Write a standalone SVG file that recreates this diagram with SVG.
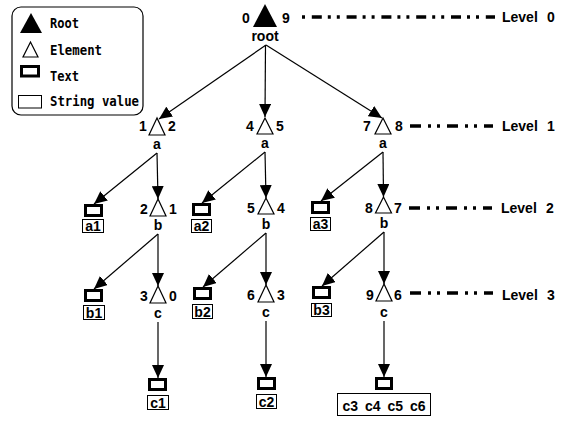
<svg xmlns="http://www.w3.org/2000/svg" width="564" height="421" viewBox="0 0 564 421">
<defs>
<marker id="arr" markerUnits="userSpaceOnUse" markerWidth="13" markerHeight="12" viewBox="0 0 13 12" refX="13" refY="6" orient="auto">
<path d="M0,0 L13,6 L0,12 z" fill="#000"/>
</marker>
</defs>
<style>
.lbl{font-family:"Liberation Sans",Arial,sans-serif;font-weight:bold;font-size:14px;fill:#000;text-anchor:middle}
.leg{font-family:"DejaVu Sans Mono","Liberation Mono",monospace;font-weight:bold;font-size:14px;fill:#000}
.lvl{font-family:"Liberation Sans",Arial,sans-serif;font-weight:bold;font-size:14px;fill:#000}
.el{fill:#fff;stroke:#000;stroke-width:1.2}
.tb{fill:#fff;stroke:#000;stroke-width:3}
.sv{fill:#fff;stroke:#000;stroke-width:1}
.edge{stroke:#000;stroke-width:1.2;fill:none;marker-end:url(#arr)}
.level{stroke:#000;stroke-width:3.5;fill:none;stroke-dasharray:11 7 3 6 3 7}
</style>
<rect width="564" height="421" fill="#fff"/>

<g id="legend">
<rect x="12" y="7" width="131" height="108" rx="9" fill="#fff" stroke="#000" stroke-width="1.2"/>
<polygon points="31,13 20,33 42,33" fill="#000"/>
<polygon points="30.5,42 23,57 38,57" class="el" stroke-width="1"/>
<rect x="21.5" y="66.5" width="17" height="9.5" class="tb"/>
<rect x="18.5" y="95.5" width="23" height="12.5" class="sv"/>
<text class="leg" x="50" y="28" textLength="29" lengthAdjust="spacingAndGlyphs">Root</text>
<text class="leg" x="50" y="55" textLength="52" lengthAdjust="spacingAndGlyphs">Element</text>
<text class="leg" x="50" y="81" textLength="29" lengthAdjust="spacingAndGlyphs">Text</text>
<text class="leg" x="50" y="106" textLength="89" lengthAdjust="spacingAndGlyphs">String value</text>
</g>

<g id="levels">
<line class="level" x1="302" y1="17" x2="495" y2="17" style="stroke-dasharray:10 6 3 6 3 6.8;stroke-dashoffset:25"/>
<text class="lvl" x="502" y="22">Level</text><text class="lvl" x="547" y="22">0</text>
<line class="level" x1="410" y1="126" x2="493" y2="126"/>
<text class="lvl" x="502" y="131">Level</text><text class="lvl" x="547" y="131">1</text>
<line class="level" x1="409" y1="208" x2="492" y2="208"/>
<text class="lvl" x="501" y="213">Level</text><text class="lvl" x="546" y="213">2</text>
<line class="level" x1="410" y1="293" x2="493" y2="293"/>
<text class="lvl" x="502" y="300">Level</text><text class="lvl" x="547" y="300">3</text>
</g>

<g id="connectors">
<line class="edge" x1="266" y1="45" x2="159" y2="119"/>
<line class="edge" x1="265.5" y1="45" x2="265" y2="117"/>
<line class="edge" x1="266" y1="45" x2="382" y2="118"/>

<line class="edge" x1="157" y1="153" x2="94" y2="204"/>
<line class="edge" x1="157" y1="153" x2="158" y2="199"/>
<line class="edge" x1="265" y1="152" x2="202" y2="203"/>
<line class="edge" x1="265" y1="152" x2="266" y2="198"/>
<line class="edge" x1="383" y1="152" x2="321" y2="201"/>
<line class="edge" x1="383" y1="152" x2="383.5" y2="197"/>

<line class="edge" x1="158" y1="234" x2="94" y2="289"/>
<line class="edge" x1="158" y1="234" x2="158" y2="286"/>
<line class="edge" x1="266" y1="233" x2="203" y2="287"/>
<line class="edge" x1="266" y1="233" x2="266" y2="285"/>
<line class="edge" x1="384" y1="232" x2="322" y2="286"/>
<line class="edge" x1="384" y1="232" x2="384" y2="284"/>

<line class="edge" x1="158" y1="322" x2="158" y2="378"/>
<line class="edge" x1="266" y1="321" x2="266" y2="377"/>
<line class="edge" x1="384" y1="321" x2="384" y2="377"/>
</g>

<g id="root">
<polygon points="265,4 253,27 277,27" fill="#000"/>
<text class="lbl" x="246" y="23">0</text>
<text class="lbl" x="286" y="23">9</text>
<text class="lbl" x="265" y="41">root</text>
</g>

<g id="a-left">
<polygon points="157,118 149,135 165,135" class="el"/>
<text class="lbl" x="143" y="131">1</text><text class="lbl" x="172" y="131">2</text>
<text class="lbl" x="157" y="149">a</text>
</g>
<g id="a-mid">
<polygon points="265,118 257,134 273,134" class="el"/>
<text class="lbl" x="250" y="131">4</text><text class="lbl" x="280" y="131">5</text>
<text class="lbl" x="265" y="148">a</text>
</g>
<g id="a-right">
<polygon points="383,118 375,134 391,134" class="el"/>
<text class="lbl" x="367" y="131">7</text><text class="lbl" x="399" y="131">8</text>
<text class="lbl" x="383" y="148">a</text>
</g>

<g id="b-left">
<polygon points="158,199 150,216 166,216" class="el"/>
<text class="lbl" x="144" y="214">2</text><text class="lbl" x="173" y="214">1</text>
<text class="lbl" x="158" y="230">b</text>
</g>
<g id="b-mid">
<polygon points="266,198 258,214 274,214" class="el"/>
<text class="lbl" x="251" y="213">5</text><text class="lbl" x="281" y="213">4</text>
<text class="lbl" x="266" y="229">b</text>
</g>
<g id="b-right">
<polygon points="383.5,197 375.5,213 391.5,213" class="el"/>
<text class="lbl" x="369" y="213">8</text><text class="lbl" x="398" y="213">7</text>
<text class="lbl" x="384" y="228">b</text>
</g>

<g id="c-left">
<polygon points="158,286 150,303 166,303" class="el"/>
<text class="lbl" x="144" y="301">3</text><text class="lbl" x="173" y="301">0</text>
<text class="lbl" x="158" y="318">c</text>
</g>
<g id="c-mid">
<polygon points="266,285 258,302 274,302" class="el"/>
<text class="lbl" x="251" y="300">6</text><text class="lbl" x="281" y="300">3</text>
<text class="lbl" x="266" y="317">c</text>
</g>
<g id="c-right">
<polygon points="384,284 376,301 392,301" class="el"/>
<text class="lbl" x="370" y="300">9</text><text class="lbl" x="398" y="300">6</text>
<text class="lbl" x="384" y="317">c</text>
</g>

<g id="text-a1">
<rect x="85.5" y="205.5" width="16" height="10" class="tb"/>
<rect x="82.5" y="219.5" width="21" height="13" class="sv"/>
<text class="lbl" x="93" y="231">a1</text>
</g>
<g id="text-a2">
<rect x="193.5" y="204.5" width="16" height="10" class="tb"/>
<rect x="191.5" y="219.5" width="20" height="13" class="sv"/>
<text class="lbl" x="201.5" y="231">a2</text>
</g>
<g id="text-a3">
<rect x="312.5" y="202.5" width="16" height="10" class="tb"/>
<rect x="310.5" y="217.5" width="20" height="13" class="sv"/>
<text class="lbl" x="320.5" y="229">a3</text>
</g>

<g id="text-b1">
<rect x="85.5" y="290.5" width="16" height="10" class="tb"/>
<rect x="83.5" y="305.5" width="21" height="14" class="sv"/>
<text class="lbl" x="94" y="318">b1</text>
</g>
<g id="text-b2">
<rect x="194.5" y="288.5" width="16" height="10" class="tb"/>
<rect x="192.5" y="304.5" width="20" height="14" class="sv"/>
<text class="lbl" x="202.5" y="317">b2</text>
</g>
<g id="text-b3">
<rect x="313.5" y="287.5" width="16" height="10" class="tb"/>
<rect x="311.5" y="303.5" width="20" height="13" class="sv"/>
<text class="lbl" x="321.5" y="315">b3</text>
</g>

<g id="text-c1">
<rect x="149.5" y="379.5" width="16" height="10" class="tb"/>
<rect x="147.5" y="395.5" width="21" height="14" class="sv"/>
<text class="lbl" x="158" y="408">c1</text>
</g>
<g id="text-c2">
<rect x="258.5" y="378.5" width="16" height="10" class="tb"/>
<rect x="256.5" y="394.5" width="20" height="14" class="sv"/>
<text class="lbl" x="266.5" y="407">c2</text>
</g>
<g id="text-c3c6">
<rect x="376.5" y="378.5" width="15" height="10" class="tb"/>
<rect x="337.5" y="393.5" width="93" height="22" class="sv"/>
<text class="lbl" x="384" y="411" style="word-spacing:3px">c3 c4 c5 c6</text>
</g>
</svg>
